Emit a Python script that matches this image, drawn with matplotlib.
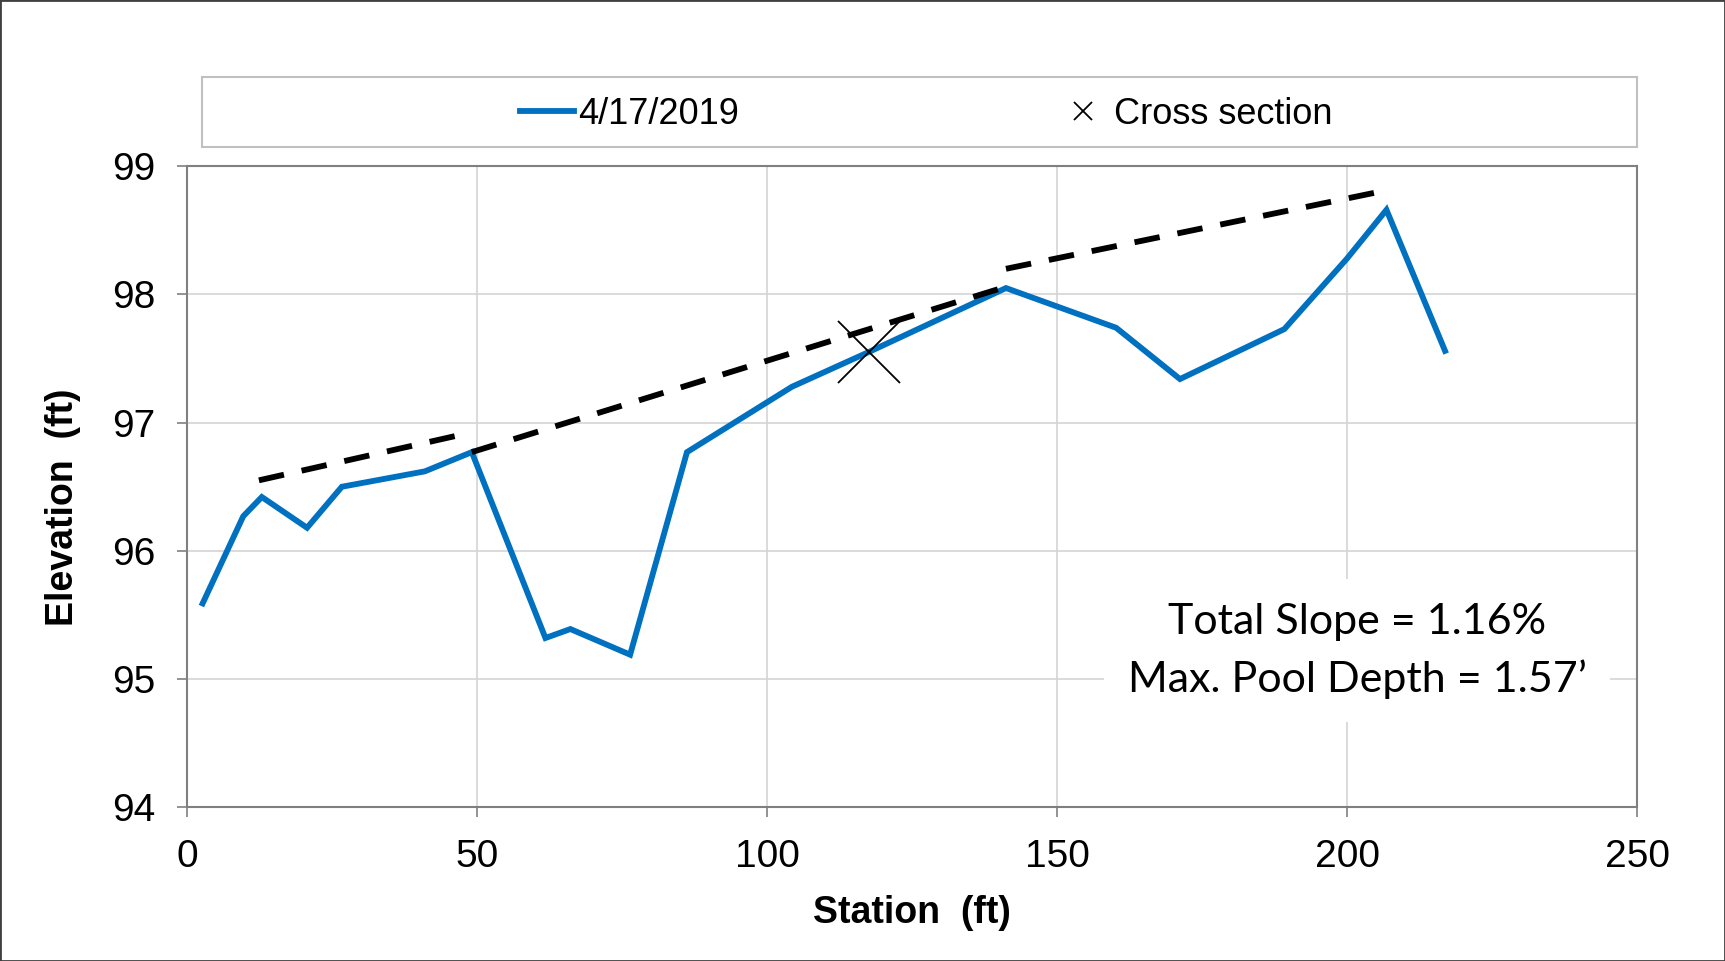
import matplotlib.pyplot as plt
from matplotlib.lines import Line2D
from matplotlib.patches import Rectangle

plt.rcParams['font.family'] = ['Liberation Sans', 'DejaVu Sans']

# survey profile, 4/17/2019
station = [2.7, 9.7, 12.9, 20.7, 26.7, 41.0, 49.1, 61.8, 66.1, 76.4, 86.2,
           104.3, 117.5, 141.2, 160.2, 171.2, 189.2, 200.0, 206.8, 216.9]
elevation = [95.59, 96.27, 96.42, 96.18, 96.50, 96.62, 96.77, 95.32, 95.39, 95.19, 96.77,
             97.28, 97.55, 98.05, 97.74, 97.34, 97.73, 98.28, 98.66, 97.56]

# cross section location
xs_station = [117.5]
xs_elevation = [97.55]

# slope lines between riffles
slope1_x = [12.4, 46.7]
slope1_y = [96.55, 96.90]
slope2_x = [49.1, 141.2]
slope2_y = [96.77, 98.06]
slope3_x = [141.2, 205.5]
slope3_y = [98.20, 98.80]

note = 'Total Slope = 1.16%\nMax. Pool Depth = 1.57\u2019'

fig = plt.figure(figsize=(17.25, 9.61), dpi=100)
ax = fig.add_axes([0.1084, 0.160, 0.8406, 0.667])

blue = '#0070C0'
ax.plot(station, elevation, color=blue, lw=4.2, solid_joinstyle='miter', zorder=3)
for sx, sy in [(slope1_x, slope1_y), (slope2_x, slope2_y), (slope3_x, slope3_y)]:
    ax.plot(sx, sy, color='black', lw=4.2, dashes=(4.4, 3.1), zorder=4)
ax.plot(xs_station, xs_elevation, ls='none', marker='x', ms=44, mew=1.3,
        color='black', zorder=5)

ax.set_xlim(0, 250)
ax.set_ylim(94, 99)
ax.set_xticks([0, 50, 100, 150, 200, 250])
ax.set_yticks([94, 95, 96, 97, 98, 99])
ax.grid(True, color='#d4d4d4', lw=1.2)
ax.set_axisbelow(True)
for s in ax.spines.values():
    s.set_color('#808080')
    s.set_linewidth(1.5)
ax.tick_params(direction='out', length=7, width=1.2, color='#808080',
               labelsize=28, pad=16)

ax.set_xlabel('Station  (ft)', fontsize=27, fontweight='bold', labelpad=14)
ax.set_ylabel('Elevation  (ft)', fontsize=27, fontweight='bold')
ax.yaxis.set_label_coords(-0.073, 0.468)

ax.text(0.807, 0.244, note, transform=ax.transAxes, ha='center', va='center',
        fontsize=31, family=['Lato', 'DejaVu Sans'], linespacing=1.55, zorder=6,
        bbox=dict(facecolor='white', edgecolor='none', pad=17))

# legend box spans the plot width
fig.patches.append(Rectangle((0.1171, 0.847), 0.8319, 0.073, transform=fig.transFigure,
                             facecolor='white', edgecolor='#c0c0c0', lw=1.5))
handles = [Line2D([], [], color=blue, lw=4.2),
           Line2D([], [], ls='none', marker='x', ms=13, mew=1.3, color='black')]
fig.legend(handles, ['4/17/2019', 'Cross section'], loc='center', ncol=2,
           bbox_to_anchor=(0.537, 0.881), fontsize=26, frameon=False,
           handlelength=1.5, handletextpad=0.1, columnspacing=8.8)

fig.patches.append(Rectangle((0, 0), 1, 1, transform=fig.transFigure, fill=False,
                             edgecolor='#404040', lw=2))

fig.savefig('out.png', dpi=100)
